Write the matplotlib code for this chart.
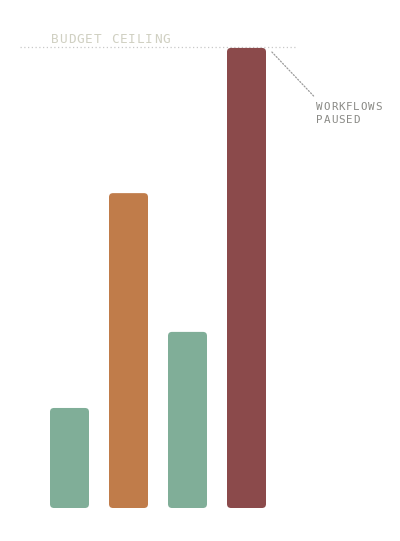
import matplotlib
matplotlib.use("Agg")
import matplotlib.pyplot as plt
from matplotlib.patches import FancyBboxPatch
from matplotlib.transforms import offset_copy

categories = ["A", "B", "C", "D"]
values = [21.7, 68.3, 38.2, 99.8]
ceiling = 100
colors = ["#80ae98", "#c07c4a", "#80ae98", "#8b4a4b"]
ceiling_label = "BUDGET CEILING"
note_lines = ["WORKFLOWS", "PAUSED"]

W, H = 400, 541
fig = plt.figure(figsize=(W / 100, H / 100), dpi=100)
ax_left, ax_right = 20, 296
ax_bottom, ax_top = 508, 40
ax = fig.add_axes([ax_left / W, 1 - ax_bottom / H, (ax_right - ax_left) / W, (ax_bottom - ax_top) / H])
ymax = ceiling * (ax_bottom - ax_top) / (ax_bottom - 47)
ax.set_xlim(-0.839, 3.839)
ax.set_ylim(0, ymax)
ax.axis("off")

px_x = (ax_right - ax_left) / (3.839 + 0.839)  # px per x unit
px_y = (ax_bottom - ax_top) / ymax  # px per y unit
aspect = px_x / px_y
width = 39 / px_x
r = 4 / px_x
for i, (v, c) in enumerate(zip(values, colors)):
    p = FancyBboxPatch((i - width / 2, 0), width, v,
                       boxstyle=f"round,pad=0,rounding_size={r}",
                       mutation_aspect=aspect, facecolor=c, edgecolor="none")
    ax.add_patch(p)

ax.axhline(ceiling, color="#c8c8c8", lw=0.9, ls=(0, (1, 2)), zorder=0)


def spaced_text(x, y, s, size, pitch_px, color):
    for k, ch in enumerate(s):
        tr = offset_copy(ax.transData, fig=fig, x=k * pitch_px, y=0, units="dots")
        ax.text(x, y, ch, transform=tr, family="DejaVu Sans Mono", fontsize=size,
                color=color, ha="left", va="baseline", clip_on=False)


spaced_text(-0.839 + 30.5 / px_x, ceiling + 4 / px_y, ceiling_label, 9.2, 8.6, "#d0d0c2")

ax.annotate("", xy=(3 + 23.5 / px_x, ceiling - 3 / px_y), xycoords="data",
            xytext=(3 + 69 / px_x, ceiling - 51 / px_y),
            arrowprops=dict(arrowstyle="-", color="#9a9a9a", lw=0.9, ls=(0, (1, 1.5))),
            annotation_clip=False)
for j, line in enumerate(note_lines):
    spaced_text(3 + 70 / px_x, ceiling - (63.5 + 12.8 * j) / px_y, line, 7.8, 7.3, "#8a8a86")

fig.savefig("out.png", dpi=100, facecolor="white")
